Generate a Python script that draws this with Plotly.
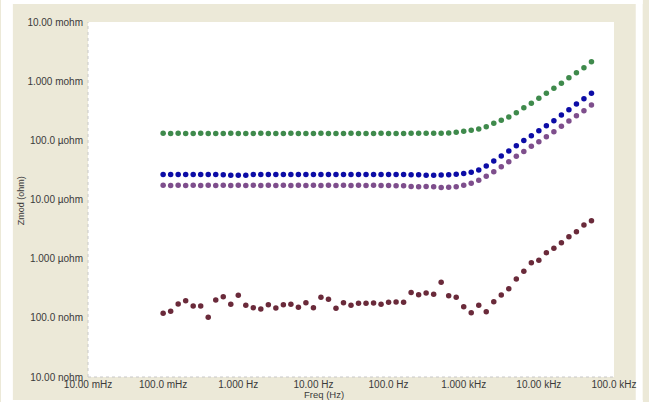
import plotly.graph_objects as go

# Frequency sweep (Hz), 10 points per decade
freq = [0.1, 0.1259, 0.1585, 0.1995, 0.2512, 0.3162, 0.3981, 0.5012, 0.631, 0.7943,
        1.0, 1.259, 1.585, 1.995, 2.512, 3.162, 3.981, 5.012, 6.31, 7.943,
        10.0, 12.59, 15.85, 19.95, 25.12, 31.62, 39.81, 50.12, 63.1, 79.43,
        100.0, 125.9, 158.5, 199.5, 251.2, 316.2, 398.1, 501.2, 631.0, 794.3,
        1000, 1259, 1585, 1995, 2512, 3162, 3981, 5012, 6310, 7943,
        10000, 12589, 15849, 19953, 25119, 31623, 39811, 50119]

# Zmod values (ohm)
zmod_green = [1.312e-4, 1.311e-4, 1.312e-4, 1.310e-4, 1.311e-4, 1.312e-4, 1.311e-4, 1.310e-4, 1.311e-4, 1.312e-4,
              1.311e-4, 1.310e-4, 1.311e-4, 1.312e-4, 1.311e-4, 1.310e-4, 1.311e-4, 1.312e-4, 1.311e-4, 1.310e-4,
              1.311e-4, 1.312e-4, 1.311e-4, 1.310e-4, 1.311e-4, 1.312e-4, 1.311e-4, 1.310e-4, 1.311e-4, 1.312e-4,
              1.311e-4, 1.310e-4, 1.311e-4, 1.312e-4, 1.313e-4, 1.315e-4, 1.318e-4, 1.322e-4, 1.331e-4, 1.367e-4,
              1.422e-4, 1.479e-4, 1.556e-4, 1.701e-4, 1.941e-4, 2.182e-4, 2.480e-4, 2.932e-4, 3.563e-4, 4.227e-4,
              5.135e-4, 6.237e-4, 7.576e-4, 9.20e-4, 1.145e-3, 1.390e-3, 1.689e-3, 2.133e-3]

zmod_blue = [2.65e-5, 2.64e-5, 2.65e-5, 2.64e-5, 2.65e-5, 2.64e-5, 2.65e-5, 2.64e-5, 2.63e-5, 2.58e-5,
             2.57e-5, 2.58e-5, 2.64e-5, 2.65e-5, 2.64e-5, 2.65e-5, 2.64e-5, 2.65e-5, 2.64e-5, 2.65e-5,
             2.64e-5, 2.65e-5, 2.64e-5, 2.65e-5, 2.64e-5, 2.65e-5, 2.64e-5, 2.65e-5, 2.64e-5, 2.65e-5,
             2.64e-5, 2.65e-5, 2.64e-5, 2.63e-5, 2.62e-5, 2.58e-5, 2.58e-5, 2.60e-5, 2.63e-5, 2.68e-5,
             2.75e-5, 2.884e-5, 3.15e-5, 3.68e-5, 4.48e-5, 5.43e-5, 6.61e-5, 8.11e-5, 9.90e-5, 1.198e-4,
             1.455e-4, 1.767e-4, 2.148e-4, 2.68e-4, 3.30e-4, 4.11e-4, 5.06e-4, 6.24e-4]

zmod_purple = [1.74e-5, 1.73e-5, 1.74e-5, 1.73e-5, 1.74e-5, 1.73e-5, 1.74e-5, 1.73e-5, 1.74e-5, 1.73e-5,
               1.74e-5, 1.73e-5, 1.74e-5, 1.73e-5, 1.74e-5, 1.73e-5, 1.74e-5, 1.73e-5, 1.74e-5, 1.73e-5,
               1.74e-5, 1.73e-5, 1.74e-5, 1.73e-5, 1.74e-5, 1.73e-5, 1.74e-5, 1.73e-5, 1.74e-5, 1.73e-5,
               1.72e-5, 1.71e-5, 1.70e-5, 1.66e-5, 1.65e-5, 1.66e-5, 1.65e-5, 1.60e-5, 1.61e-5, 1.65e-5,
               1.738e-5, 1.879e-5, 2.11e-5, 2.47e-5, 2.95e-5, 3.58e-5, 4.36e-5, 5.37e-5, 6.48e-5, 7.93e-5,
               9.48e-5, 1.152e-4, 1.40e-4, 1.727e-4, 2.123e-4, 2.61e-4, 3.17e-4, 3.95e-4]

zmod_brown = [1.194e-7, 1.291e-7, 1.714e-7, 1.95e-7, 1.585e-7, 1.585e-7, 1.021e-7, 2.004e-7, 2.277e-7, 1.694e-7,
              2.405e-7, 1.629e-7, 1.485e-7, 1.412e-7, 1.668e-7, 1.466e-7, 1.668e-7, 1.694e-7, 1.508e-7, 1.803e-7,
              1.485e-7, 2.224e-7, 2.057e-7, 1.449e-7, 1.803e-7, 1.629e-7, 1.762e-7, 1.762e-7, 1.782e-7, 1.694e-7,
              1.832e-7, 1.853e-7, 1.832e-7, 2.68e-7, 2.453e-7, 2.63e-7, 2.51e-7, 3.99e-7, 2.366e-7, 2.224e-7,
              1.543e-7, 1.222e-7, 1.629e-7, 1.27e-7, 1.875e-7, 2.432e-7, 3.11e-7, 4.54e-7, 6.12e-7, 8.55e-7,
              9.39e-7, 1.262e-6, 1.497e-6, 1.862e-6, 2.35e-6, 2.86e-6, 3.71e-6, 4.38e-6]

x_tickvals = [0.01, 0.1, 1, 10, 100, 1000, 10000, 100000]
x_ticktext = ["10.00 mHz", "100.0 mHz", "1.000 Hz", "10.00 Hz", "100.0 Hz",
              "1.000 kHz", "10.00 kHz", "100.0 kHz"]
y_tickvals = [1e-8, 1e-7, 1e-6, 1e-5, 1e-4, 1e-3, 1e-2]
y_ticktext = ["10.00 nohm", "100.0 nohm", "1.000 µohm", "10.00 µohm",
              "100.0 µohm", "1.000 mohm", "10.00 mohm"]

series = [
    (zmod_green, "#3f8a4c"),
    (zmod_blue, "#0c0ca6"),
    (zmod_purple, "#7e4e8c"),
    (zmod_brown, "#6a2a3a"),
]

fig = go.Figure()
for vals, col in series:
    fig.add_trace(go.Scatter(x=freq, y=vals, mode="markers",
                             marker=dict(size=5.5, color=col, line=dict(width=0)),
                             showlegend=False, hoverinfo="x+y"))

FONT = "Liberation Sans, Arial, sans-serif"
TXT = "#3a3a3a"
BEIGE = "#ECE9D8"

# plot area: x 88..620 px, y 22..377 px
L, R, T, B = 88, 620, 22, 377
W, H = R - L, B - T

def px(x):
    return (x - L) / W

def py(y):
    return (B - y) / H

fig.update_layout(
    width=649, height=402,
    margin=dict(l=L, r=649 - R, t=T, b=402 - B),
    paper_bgcolor=BEIGE,
    plot_bgcolor="white",
    font=dict(family=FONT, size=10, color=TXT),
    xaxis=dict(type="log", range=[-2, 5], tickvals=x_tickvals, ticktext=x_ticktext,
               showgrid=False, zeroline=False, showline=False, ticks="",
               tickfont=dict(size=10, color=TXT)),
    yaxis=dict(type="log", range=[-8, -2], tickvals=y_tickvals, ticktext=y_ticktext,
               showgrid=False, zeroline=False, showline=False, ticks="",
               ticklabelstandoff=4,
               tickfont=dict(size=10, color=TXT)),
    shapes=[
        dict(type="rect", xref="paper", yref="paper", x0=px(0), x1=px(12), y0=py(402), y1=py(0),
             fillcolor="white", line=dict(width=0), layer="below"),
        dict(type="rect", xref="paper", yref="paper", x0=px(642), x1=px(649), y0=py(402), y1=py(0),
             fillcolor="white", line=dict(width=0), layer="below"),
        dict(type="rect", xref="paper", yref="paper", x0=px(0), x1=px(649), y0=py(4), y1=py(0),
             fillcolor="white", line=dict(width=0), layer="below"),
        dict(type="rect", xref="paper", yref="paper", x0=px(0), x1=px(649), y0=py(402), y1=py(400),
             fillcolor="white", line=dict(width=0), layer="below"),
        dict(type="line", xref="paper", yref="paper", x0=0, x1=0, y0=0, y1=1,
             line=dict(color="#c8c8c8", width=1, dash="dot"), layer="above"),
        dict(type="line", xref="paper", yref="paper", x0=0, x1=1, y0=0, y1=0,
             line=dict(color="#c8c8c8", width=1, dash="dot"), layer="above"),
    ],
    annotations=[
        dict(text="Freq (Hz)", xref="paper", yref="paper", x=px(327), y=py(394),
             showarrow=False, xanchor="center", yanchor="middle",
             font=dict(size=9.5, color=TXT, family=FONT)),
        dict(text="Zmod (ohm)", xref="paper", yref="paper", x=px(20.5), y=py(201),
             showarrow=False, xanchor="center", yanchor="middle",
             textangle=-90, font=dict(size=9, color=TXT, family=FONT)),
    ],
)

fig.write_html("out.html",
               config={"displayModeBar": False},
               post_script="document.body.style.margin='0';document.body.style.overflow='hidden';")
